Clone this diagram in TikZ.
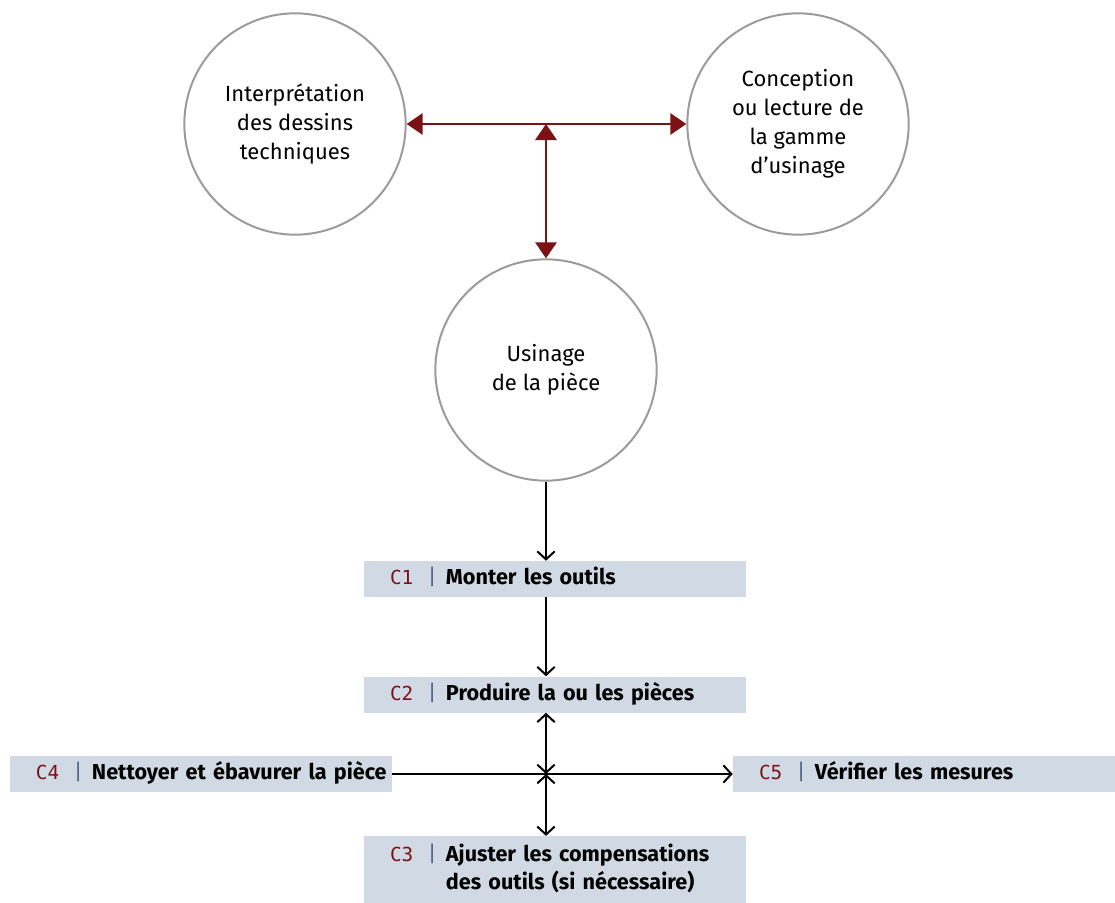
\documentclass[tikz,border=0pt]{standalone}
\usepackage{fontspec}
\setmainfont{Fira Sans}
\newfontfamily\codefont{DejaVu Sans Mono}
\usepackage{array}
\usetikzlibrary{arrows.meta}

\definecolor{cercle}{RGB}{155,155,155}
\definecolor{bordeaux}{RGB}{122,18,22}
\definecolor{fondetape}{RGB}{208,217,228}
\definecolor{barre}{RGB}{80,105,140}

% label of a step: code | text
\newcommand{\etape}[2]{\mbox{\hspace*{19.5pt}\textcolor{bordeaux}{\codefont\fontsize{14.5}{21}\selectfont #1}\hspace{11pt}\textcolor{barre}{|}\hspace{7pt}\begin{tabular}[t]{@{}>{\bfseries}l@{}}#2\end{tabular}}}

\begin{document}
\begin{tikzpicture}[
	x=0.75pt, y=-0.75pt,
	phase/.style={circle, draw=cercle, line width=1.5pt, minimum size=166pt, inner sep=0pt, align=center, font=\fontsize{16.5}{21.75}\selectfont},
	etapebox/.style={rectangle, fill=fondetape, text width=286.5pt, inner xsep=0pt, inner ysep=0pt, minimum height=27pt, align=left, font=\fontsize{16.2}{21}\selectfont},
	lienrouge/.style={arrows={Triangle[length=12pt,width=16pt]-Triangle[length=12pt,width=16pt]}, draw=bordeaux, line width=1.5pt},
	fleche/.style={-{Straight Barb[length=6pt,width=13pt]}, line width=1.5pt},
	doublefleche/.style={{Straight Barb[length=6pt,width=13pt]}-{Straight Barb[length=6pt,width=13pt]}, line width=1.5pt}
]
\useasboundingbox (0,0) rectangle (1115,903);

% Circles
\node[phase] (interp) at (295,124) {Interprétation\\des dessins\\techniques};
\node[phase] (gamme) at (798,124) {Conception\\ou lecture de\\la gamme\\d’usinage};
\node[phase] (usinage) at (546,370) {Usinage\\de la pièce};

% Steps
\node[etapebox] (C1) at (555,579) {\etape{C1}{Monter les outils}};
\node[etapebox] (C2) at (555,694.5) {\etape{C2}{Produire la ou les pièces}};
\node[etapebox] (C4) at (201,774) {\etape{C4}{Nettoyer et ébavurer la pièce}};
\node[etapebox] (C5) at (924,774) {\etape{C5}{Vérifier les mesures}};
\node[etapebox, minimum height=50pt] (C3) at (555,869.5) {\etape{C3}{Ajuster les compensations\\des outils (si nécessaire)}};

\coordinate (jonction) at (interp.east -| usinage.north);
\coordinate (croix) at (usinage.south |- C4.east);

% Red links
\draw[lienrouge] (interp) -- (gamme);
\draw[lienrouge] (jonction) -- (usinage);

% Black links
\draw[fleche] (usinage) -- (usinage.south |- C1.north);
\draw[fleche] (C1.south -| usinage) -- (usinage.south |- C2.north);
\draw[doublefleche] (C2.south -| usinage) -- (croix);
\draw[doublefleche] (croix) -- (usinage.south |- C3.north);
\draw[fleche] (C4) -- (C5);

\end{tikzpicture}
\end{document}
